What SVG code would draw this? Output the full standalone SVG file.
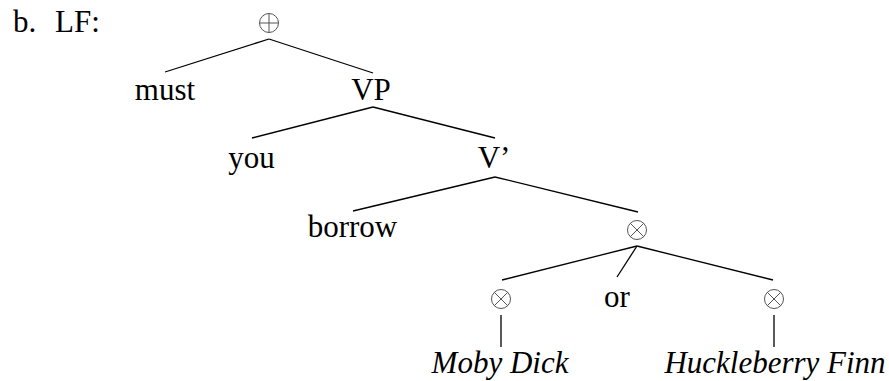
<svg xmlns="http://www.w3.org/2000/svg" width="889" height="381" viewBox="0 0 889 381">
<style>
.t{font-family:"Liberation Serif","Times New Roman",serif;font-size:31px;fill:#000;text-anchor:middle}
.i{font-style:italic}
.op{fill:none;stroke:#555;stroke-width:1}
.e{stroke:#000;stroke-width:1.3;fill:none}
</style>
<rect width="889" height="381" fill="#fff"/>
<text class="t" x="13" y="32" style="text-anchor:start">b.</text>
<text class="t" x="55" y="32" style="text-anchor:start">LF:</text>
<g id="connectors">
<line class="e" x1="269" y1="39" x2="165" y2="72"/>
<line class="e" x1="269" y1="39" x2="373" y2="73"/>
<line class="e" x1="373" y1="107" x2="252" y2="138"/>
<line class="e" x1="373" y1="107" x2="495" y2="138"/>
<line class="e" x1="495" y1="177" x2="353" y2="211"/>
<line class="e" x1="495" y1="177" x2="638" y2="212"/>
<line class="e" x1="637" y1="246" x2="502" y2="280"/>
<line class="e" x1="637" y1="246" x2="617" y2="277"/>
<line class="e" x1="637" y1="246" x2="773" y2="280"/>
<line class="e" x1="501" y1="315" x2="501" y2="347"/>
<line class="e" x1="774" y1="315" x2="774" y2="347"/>
</g>
<g id="root">
<circle class="op" cx="269" cy="23" r="9.5"/>
<line class="op" x1="259.5" y1="23" x2="278.5" y2="23"/>
<line class="op" x1="269" y1="13.5" x2="269" y2="32.5"/>
</g>
<g id="must"><text class="t" x="165" y="100">must</text></g>
<g id="VP"><text class="t" x="371" y="100">VP</text></g>
<g id="you"><text class="t" x="251.5" y="168">you</text></g>
<g id="Vbar"><text class="t" x="494" y="168">V’</text></g>
<g id="borrow"><text class="t" x="352.5" y="237">borrow</text></g>
<g id="otimes-top">
<circle class="op" cx="637" cy="230" r="9.5"/>
<line class="op" x1="630.3" y1="223.3" x2="643.7" y2="236.7"/>
<line class="op" x1="643.7" y1="223.3" x2="630.3" y2="236.7"/>
</g>
<g id="otimes-left">
<circle class="op" cx="501" cy="299" r="9.5"/>
<line class="op" x1="494.3" y1="292.3" x2="507.7" y2="305.7"/>
<line class="op" x1="507.7" y1="292.3" x2="494.3" y2="305.7"/>
</g>
<g id="or"><text class="t" x="617" y="307">or</text></g>
<g id="otimes-right">
<circle class="op" cx="774" cy="299" r="9.5"/>
<line class="op" x1="767.3" y1="292.3" x2="780.7" y2="305.7"/>
<line class="op" x1="780.7" y1="292.3" x2="767.3" y2="305.7"/>
</g>
<g id="moby"><text class="t i" x="500" y="373">Moby Dick</text></g>
<g id="huck"><text class="t i" x="775" y="373">Huckleberry Finn</text></g>
</svg>
